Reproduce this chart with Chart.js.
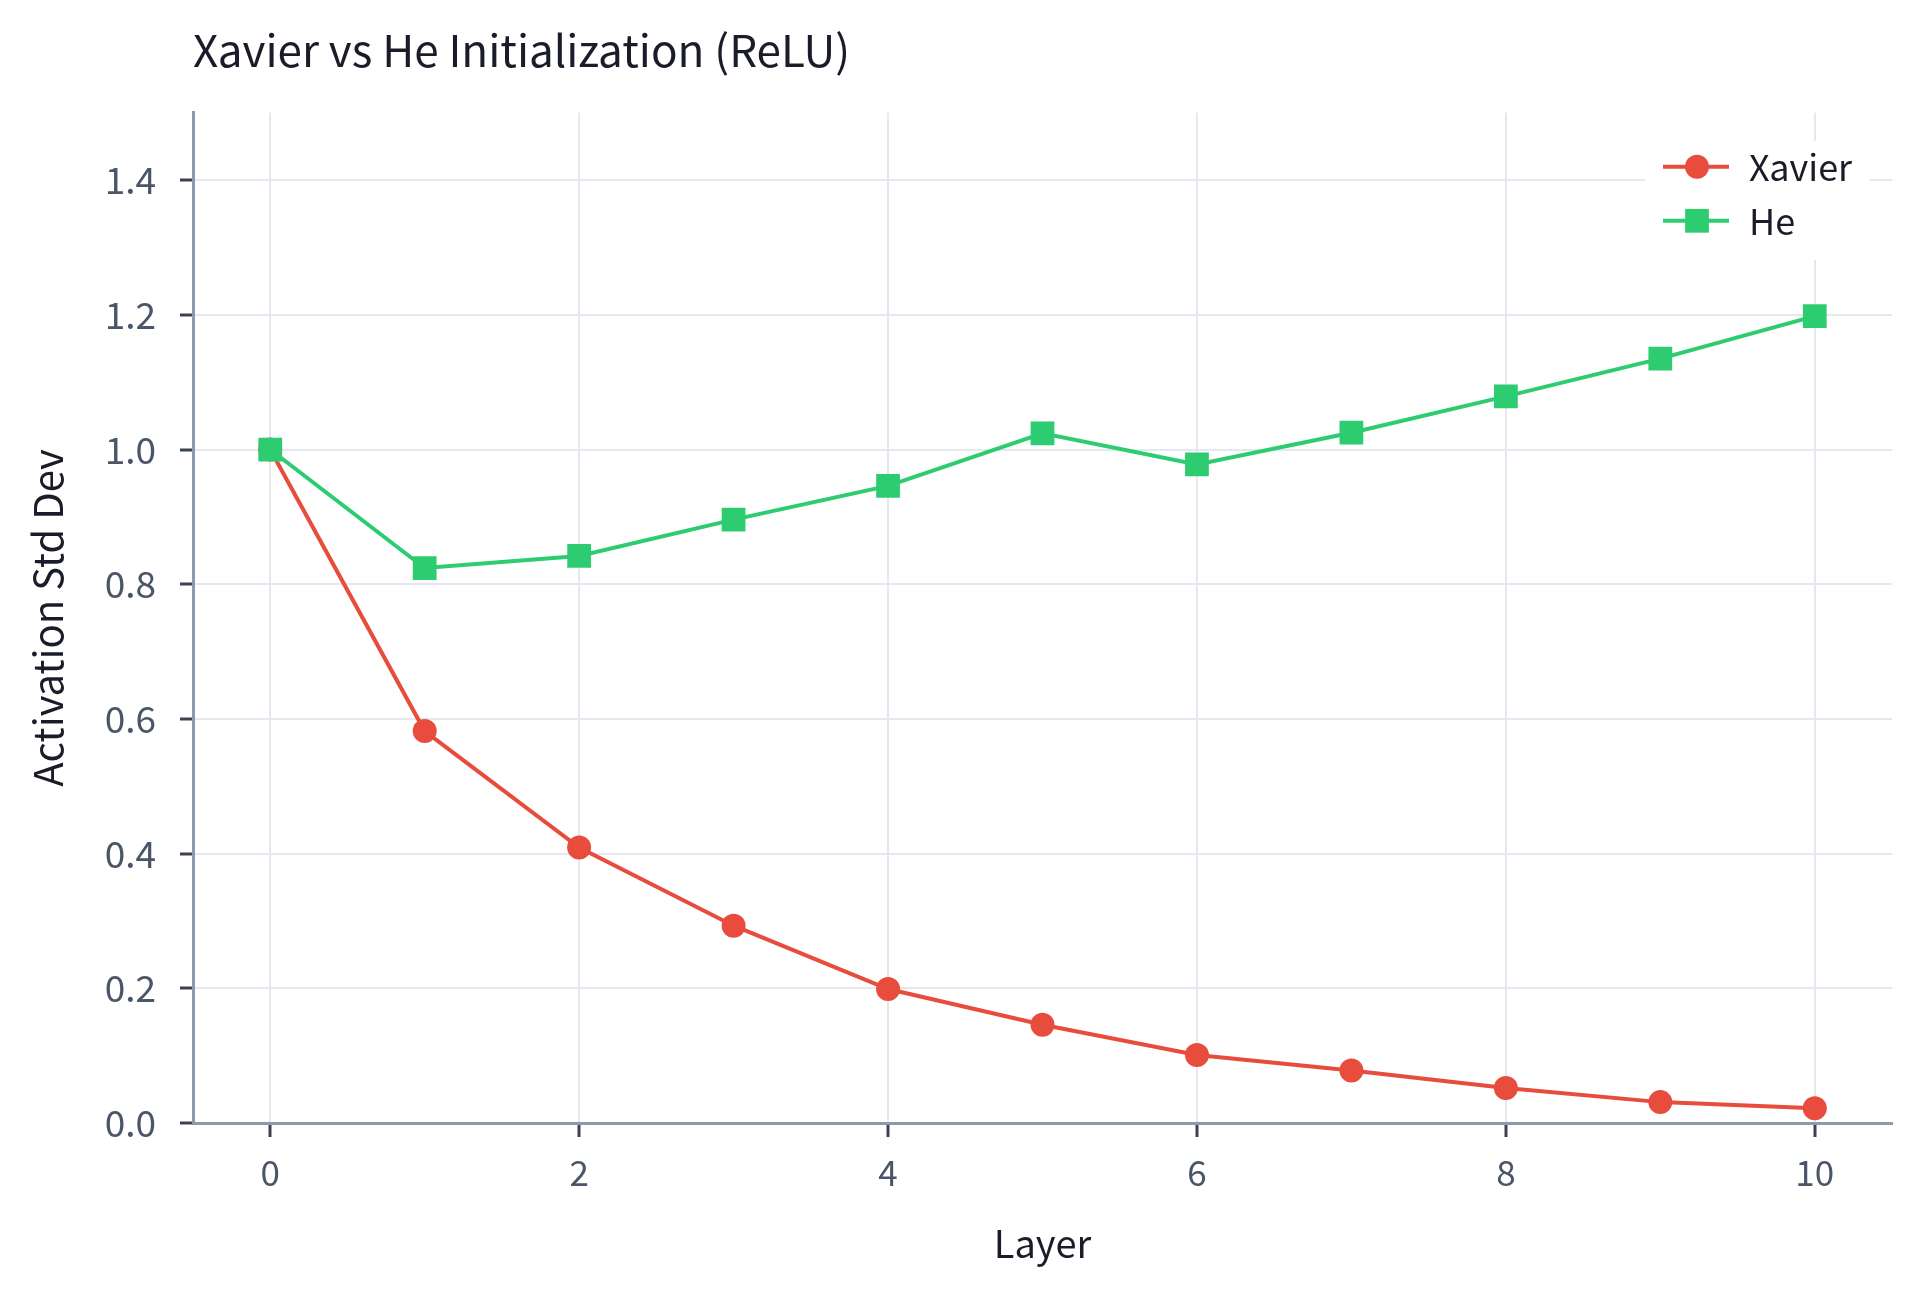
<!DOCTYPE html>
<html>
<head>
<meta charset="utf-8">
<title>Xavier vs He Initialization (ReLU)</title>
<script src="https://cdn.jsdelivr.net/npm/chart.js@4/dist/chart.umd.min.js"></script>
<style>
  html, body { margin: 0; padding: 0; background: #ffffff; }
  #wrap { width: 1920px; height: 1292px; position: relative; }
</style>
</head>
<body>
<div id="wrap"><canvas id="chart"></canvas></div>
<script>
  // Données
  const layers = [0, 1, 2, 3, 4, 5, 6, 7, 8, 9, 10];
  const xavierStd = [1.0, 0.582, 0.409, 0.293, 0.199, 0.146, 0.101, 0.078, 0.052, 0.031, 0.022];
  const heStd = [1.0, 0.824, 0.842, 0.896, 0.946, 1.024, 0.978, 1.025, 1.079, 1.135, 1.198];
  const xTicks = [0, 2, 4, 6, 8, 10];
  const yTicks = [0, 0.2, 0.4, 0.6, 0.8, 1.0, 1.2, 1.4];

  const FONT = '"Noto Sans CJK KR", "Noto Sans", sans-serif';
  const RED = '#e74c3c';
  const GREEN = '#2ecc71';

  function toPoints(values) {
    return layers.map((x, i) => ({ x, y: values[i] }));
  }

  // Légende dessinée dans la zone du graphique (ligne + marqueur)
  const insideLegend = {
    id: 'insideLegend',
    afterDraw(chart) {
      const { ctx, chartArea } = chart;
      const w = 225, h = 119;
      const left = chartArea.right - 22 - w;
      const top = chartArea.top + 28;
      ctx.save();
      ctx.fillStyle = '#ffffff';
      ctx.fillRect(left, top, w, h);
      chart.data.datasets.forEach((ds, i) => {
        const y = top + 26 + i * 54;
        ctx.strokeStyle = ds.borderColor;
        ctx.lineWidth = ds.borderWidth;
        ctx.beginPath();
        ctx.moveTo(left + 18, y);
        ctx.lineTo(left + 84, y);
        ctx.stroke();
        ctx.fillStyle = ds.pointBackgroundColor;
        Chart.helpers.drawPoint(ctx, {
          pointStyle: ds.pointStyle, radius: ds.pointRadius, rotation: 0, borderWidth: 0
        }, left + 52, y);
        ctx.fillStyle = '#1a1d29';
        ctx.font = `36px ${FONT}`;
        ctx.textBaseline = 'middle';
        ctx.textAlign = 'left';
        ctx.fillText(ds.label, left + 104, y + 1);
      });
      ctx.restore();
    }
  };

  new Chart(document.getElementById('chart'), {
    type: 'line',
    data: {
      datasets: [
        {
          label: 'Xavier',
          data: toPoints(xavierStd),
          borderColor: RED,
          backgroundColor: RED,
          pointBackgroundColor: RED,
          pointBorderWidth: 0,
          pointStyle: 'circle',
          pointRadius: 12,
          borderWidth: 4,
          order: 1
        },
        {
          label: 'He',
          data: toPoints(heStd),
          borderColor: GREEN,
          backgroundColor: GREEN,
          pointBackgroundColor: GREEN,
          pointBorderWidth: 0,
          pointStyle: 'rect',
          pointRadius: 16.8,
          borderWidth: 4,
          order: 0
        }
      ]
    },
    options: {
      responsive: true,
      maintainAspectRatio: false,
      devicePixelRatio: 1,
      animation: false,
      layout: { padding: { left: 0, right: 28, top: 0, bottom: 0 } },
      plugins: {
        legend: { display: false },
        tooltip: { enabled: false },
        title: {
          display: true,
          text: 'Xavier vs He Initialization (ReLU)',
          align: 'start',
          fullSize: false,
          color: '#1a1d29',
          font: { family: FONT, size: 44, weight: 'normal', lineHeight: 1.2 },
          padding: { top: 24, bottom: 36 }
        }
      },
      scales: {
        x: {
          type: 'linear',
          min: -0.5,
          max: 10.5,
          afterBuildTicks: (scale) => { scale.ticks = xTicks.map(v => ({ value: v })); },
          afterFit: (scale) => { scale.height = 169; },
          ticks: {
            color: '#4a5568',
            font: { family: FONT, size: 35 },
            padding: 15,
            callback: (v) => String(v)
          },
          grid: {
            color: '#e5e8ee',
            lineWidth: 2,
            tickColor: '#3b4252',
            tickWidth: 3,
            tickLength: 14
          },
          border: { color: '#8c9aae', width: 3 },
          title: {
            display: true,
            text: 'Layer',
            color: '#1a1d29',
            font: { family: FONT, size: 38 },
            padding: { top: 0, bottom: 26 }
          }
        },
        y: {
          type: 'linear',
          min: 0,
          max: 1.5,
          afterBuildTicks: (scale) => { scale.ticks = yTicks.map(v => ({ value: v })); },
          afterFit: (scale) => { scale.width = 193; },
          ticks: {
            color: '#4a5568',
            font: { family: FONT, size: 37 },
            padding: 24,
            callback: (v) => Number(v).toFixed(1)
          },
          grid: {
            color: '#e5e8ee',
            lineWidth: 2,
            tickColor: '#3b4252',
            tickWidth: 3,
            tickLength: 13
          },
          border: { color: '#8c9aae', width: 3 },
          title: {
            display: true,
            text: 'Activation Std Dev',
            color: '#1a1d29',
            font: { family: FONT, size: 40 },
            padding: { top: 24, bottom: 0 }
          }
        }
      }
    },
    plugins: [insideLegend]
  });
</script>
</body>
</html>
